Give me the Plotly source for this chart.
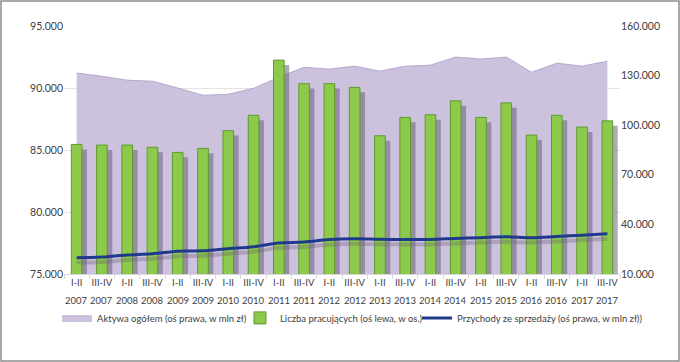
import plotly.graph_objects as go

halves = ["I-II", "III-IV"] * 11
years = [str(y) for y in range(2007, 2018) for _ in range(2)]
categories = [h + " " + y for h, y in zip(halves, years)]

# Aktywa ogółem (right axis, mln zł)
assets = [131500, 129600, 127200, 126600, 122500, 118100, 118700, 122300, 129000, 135000, 133900, 135700,
          132700, 135700, 136300, 141200, 140000, 141200, 132000, 137500, 135700, 138700]
# Liczba pracujących (left axis, persons)
employed = [85450, 85400, 85400, 85220, 84810, 85130, 86560, 87800, 92250, 90350, 90350, 90050,
            86150, 87630, 87840, 88970, 87630, 88800, 86200, 87800, 86850, 87350]
# Przychody ze sprzedaży (right axis, mln zł)
revenue = [19900, 20300, 21500, 22200, 23800, 24000, 25300, 26500, 28800, 29300, 30800, 31300,
           31000, 30900, 30900, 31500, 32000, 32500, 32000, 32700, 33500, 34300]

left_ticks = [75000, 80000, 85000, 90000, 95000]
right_ticks = [10000, 40000, 70000, 100000, 130000, 160000]

FONT = "Lato, sans-serif"
TXT = "#404040"

fig = go.Figure()

fig.add_trace(go.Scatter(
    x=categories, y=assets, name="Aktywa ogółem (oś prawa, w mln zł)",
    mode="lines", fill="tozeroy", fillcolor="#CCC2DE",
    line=dict(color="#B5A8CF", width=1), yaxis="y", hoverinfo="skip", legend="legend"))

# bar shadows
fig.add_trace(go.Bar(
    x=categories, y=[v - 400 for v in employed], yaxis="y2", showlegend=False,
    marker=dict(color="rgba(95,85,110,0.5)", line=dict(width=0)),
    width=0.42, offset=-0.01, hoverinfo="skip"))

fig.add_trace(go.Bar(
    x=categories, y=employed, name="Liczba pracujących (oś lewa, w os.)", yaxis="y2",
    marker=dict(color="#8DCA4B", line=dict(color="#5E9A2E", width=1)),
    width=0.42, offset=-0.21, legend="legend2"))

# line shadow
fig.add_trace(go.Scatter(
    x=categories, y=[v - 3000 for v in revenue], yaxis="y3", showlegend=False, mode="lines",
    line=dict(color="rgba(110,100,120,0.35)", width=4, shape="spline"), hoverinfo="skip"))

fig.add_trace(go.Scatter(
    x=categories, y=revenue, name="Przychody ze sprzedaży (oś prawa, w mln zł))", yaxis="y3",
    mode="lines", line=dict(color="#1F3A8C", width=3, shape="spline"), legend="legend3"))

legend_common = dict(orientation="h", xanchor="left", y=-0.177, yanchor="middle",
                     font=dict(size=9.5, color=TXT), itemwidth=30, bgcolor="rgba(0,0,0,0)")

fig.update_layout(
    width=680, height=362,
    margin=dict(l=64, r=60, t=26, b=88),
    paper_bgcolor="white", plot_bgcolor="rgba(0,0,0,0)",
    separators=",.",
    font=dict(family=FONT, size=10, color=TXT),
    barmode="overlay",
    showlegend=True,
    legend=dict(x=-0.0126, **legend_common),
    legend2=dict(x=0.3165, **legend_common),
    legend3=dict(x=0.635, **legend_common),
    xaxis=dict(type="category", tickson="boundaries", ticks="outside", ticklen=4,
               tickcolor="#D9D9D9", showline=True, linecolor="#D9D9D9", linewidth=1,
               showgrid=False, tickangle=0, tickfont=dict(size=9.5, color=TXT),
               tickmode="array", tickvals=categories, ticktext=halves,
               range=[-0.5, 21.5]),
    yaxis=dict(side="right", range=[10000, 160000], tickvals=right_ticks, tickformat=",d",
               showgrid=False, showline=False, zeroline=False, ticks="",
               tickfont=dict(size=10.5, color=TXT)),
    yaxis2=dict(side="left", overlaying="y", range=[75000, 95000], tickvals=left_ticks,
                tickformat=",d", showgrid=True, gridcolor="#E3E3E3", gridwidth=1,
                zeroline=False, showline=False, ticks="", tickfont=dict(size=10.5, color=TXT)),
    yaxis3=dict(overlaying="y", range=[10000, 160000], visible=False),
)

for c, y in zip(categories, years):
    fig.add_annotation(x=c, xref="x", y=(274 - 300) / 248, yref="paper", text=y,
                       showarrow=False, yanchor="middle", xanchor="center",
                       font=dict(size=9.5, color=TXT))

fig.add_shape(type="rect", xref="paper", yref="paper",
              x0=(1 - 64) / 556, x1=(679 - 64) / 556,
              y0=(274 - 361) / 248, y1=(274 - 1) / 248,
              line=dict(color="#8C8C8C", width=1.5), fillcolor="rgba(0,0,0,0)", layer="above")

fig.write_html("out.html", config={"displayModeBar": False},
               post_script="document.body.style.margin='0';")
